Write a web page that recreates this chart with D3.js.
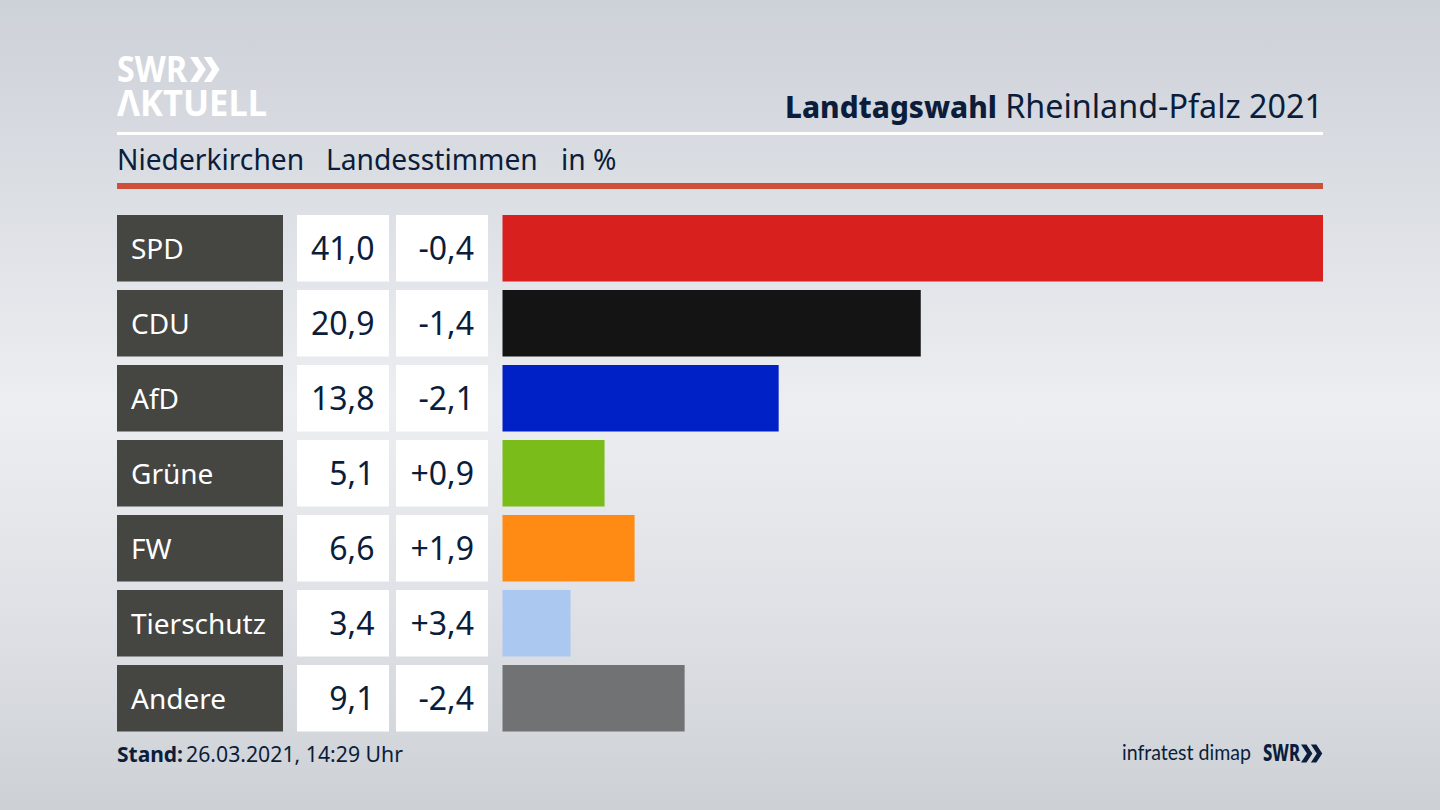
<!DOCTYPE html>
<html>
<head>
<meta charset="utf-8">
<script src="https://cdn.jsdelivr.net/npm/d3@7"></script>
<style>
html, body { margin: 0; padding: 0; background: #d5d8de; }
svg { display: block; }
text { font-family: "Noto Sans", sans-serif; }
</style>
</head>
<body>
<div id="chart"></div>
<script>
"use strict";

let parties = ["SPD", "CDU", "AfD", "Grüne", "FW", "Tierschutz", "Andere"];
let shares = [41.0, 20.9, 13.8, 5.1, 6.6, 3.4, 9.1];
let changes = [-0.4, -1.4, -2.1, 0.9, 1.9, 3.4, -2.4];
let bar_colors = ["#d8201f", "#141414", "#0021c6", "#7abd1a", "#ff8b14", "#abc8f0", "#717274"];

let navy = "#0b1d3a";
let label_bg = "#454542";
let width = 1440, height = 810;

let svg = d3.select("#chart").append("svg").attr("width", width).attr("height", height);
let defs = svg.append("defs");

// background: light band through the middle, darker to the top and bottom
let bg = defs.append("linearGradient").attr("id", "bg").attr("x1", 0).attr("y1", 0).attr("x2", 0).attr("y2", 1);
bg.append("stop").attr("offset", "0%").attr("stop-color", "#cdd1d8");
bg.append("stop").attr("offset", "25%").attr("stop-color", "#dcdfe4");
bg.append("stop").attr("offset", "50%").attr("stop-color", "#eceef1");
bg.append("stop").attr("offset", "75%").attr("stop-color", "#dfe1e6");
bg.append("stop").attr("offset", "100%").attr("stop-color", "#cdd1d6");
svg.append("rect").attr("width", width).attr("height", height).attr("fill", "url(#bg)");

let x = d3.scaleLinear().domain([0, 41]).range([502.5, 1323]);
let y = d3.scaleBand().domain(parties).range([215, 731.5]).paddingInner(8.5 / 75);
let fmt = v => d3.format(".1f")(v).replace(".", ",").replace("−", "-");
let fmt_change = v => (v > 0 ? "+" : "") + fmt(v);

// header
function draw_chevrons(g, px, py, size, color) {
    let w = size * 0.55;
    [0, w].forEach(off => {
        g.append("path")
            .attr("d", `M${px + off},${py} h${w * 0.55} l${w * 0.6},${size / 2} l${-w * 0.6},${size / 2} h${-w * 0.55} l${w * 0.6},${-size / 2} z`)
            .attr("fill", color);
    });
}

let logo = svg.append("g");
logo.append("text").attr("x", 117).attr("y", 82).attr("font-size", 35).attr("font-weight", 700).attr("fill", "#fff").attr("textLength", 70).attr("lengthAdjust", "spacingAndGlyphs").text("SWR");
draw_chevrons(logo, 190, 57, 25, "#fff");
logo.append("text").attr("x", 117).attr("y", 115.5).attr("font-size", 35).attr("font-weight", 700).attr("fill", "#fff").attr("textLength", 150).attr("lengthAdjust", "spacingAndGlyphs").text("ΛKTUELL");

svg.append("text").attr("x", 785).attr("y", 118).attr("font-size", 31).attr("font-weight", 800).attr("fill", navy).attr("textLength", 212).attr("lengthAdjust", "spacingAndGlyphs").text("Landtagswahl");
svg.append("text").attr("x", 1323).attr("y", 118).attr("text-anchor", "end").attr("font-size", 32.3).attr("fill", navy).text("Rheinland-Pfalz 2021");

svg.append("rect").attr("x", 117).attr("y", 132).attr("width", 1206).attr("height", 3).attr("fill", "#fff");

let sub = svg.append("g").attr("font-size", 28.2).attr("fill", navy);
sub.append("text").attr("x", 117).attr("y", 170).text("Niederkirchen");
sub.append("text").attr("x", 326).attr("y", 170).text("Landesstimmen");
sub.append("text").attr("x", 561).attr("y", 170).text("in %");

svg.append("rect").attr("x", 117).attr("y", 183).attr("width", 1206).attr("height", 6).attr("fill", "#cf5038");

// rows
let rows = svg.selectAll("g.row").data(parties).join("g").attr("class", "row");

rows.append("rect").attr("x", 117).attr("y", d => y(d)).attr("width", 166).attr("height", y.bandwidth()).attr("fill", label_bg);
rows.append("text").attr("x", 131).attr("y", d => y(d) + y.bandwidth() / 2 + 10.5).attr("font-size", 28).attr("fill", "#fff").text(d => d);

rows.append("rect").attr("x", 297).attr("y", d => y(d)).attr("width", 92).attr("height", y.bandwidth()).attr("fill", "#fff");
rows.append("text").attr("x", 374.5).attr("y", d => y(d) + y.bandwidth() / 2 + 12).attr("text-anchor", "end").attr("font-size", 32).attr("fill", navy).text((d, i) => fmt(shares[i]));

rows.append("rect").attr("x", 396).attr("y", d => y(d)).attr("width", 92).attr("height", y.bandwidth()).attr("fill", "#fff");
rows.append("text").attr("x", 474).attr("y", d => y(d) + y.bandwidth() / 2 + 12).attr("text-anchor", "end").attr("font-size", 32).attr("fill", navy).text((d, i) => fmt_change(changes[i]));

rows.append("rect").attr("x", x(0)).attr("y", d => y(d)).attr("width", (d, i) => x(shares[i]) - x(0)).attr("height", y.bandwidth()).attr("fill", (d, i) => bar_colors[i]);

// footer
svg.append("text").attr("x", 117).attr("y", 762).attr("font-size", 21).attr("font-weight", 700).attr("fill", navy).attr("textLength", 66).attr("lengthAdjust", "spacingAndGlyphs").text("Stand:");
svg.append("text").attr("x", 186).attr("y", 762).attr("font-size", 21.3).attr("fill", navy).attr("textLength", 217).attr("lengthAdjust", "spacingAndGlyphs").text("26.03.2021, 14:29 Uhr");

// css rule on text beats a font-family attribute, so this one goes through style
svg.append("text").attr("x", 1122).attr("y", 760).attr("font-size", 21).style("font-family", "Lato").attr("fill", navy).attr("textLength", 129).attr("lengthAdjust", "spacingAndGlyphs").text("infratest dimap");
svg.append("text").attr("x", 1263).attr("y", 761).attr("font-size", 23).attr("font-weight", 800).attr("fill", navy).attr("textLength", 37).attr("lengthAdjust", "spacingAndGlyphs").text("SWR");
draw_chevrons(svg.append("g"), 1301, 744.5, 18, navy);
</script>
</body>
</html>
